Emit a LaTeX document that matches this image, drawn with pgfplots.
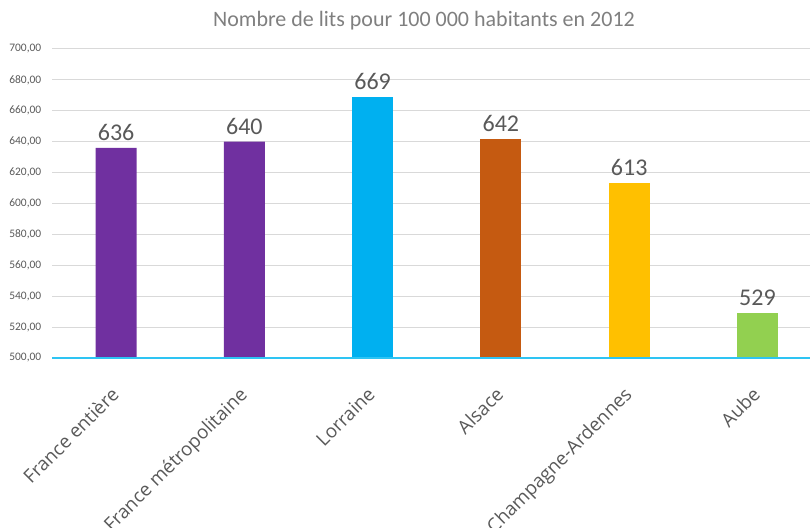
\documentclass[border=0pt]{standalone}
\usepackage{pgfplots}
\pgfplotsset{compat=1.18}
\usepackage{fontspec}
\setmainfont{Carlito}
\newfontfamily\catfont{Open Sans}
\definecolor{txt}{HTML}{595959}
\definecolor{ttl}{HTML}{7F7F7F}
\definecolor{gridc}{HTML}{D9D9D9}
\definecolor{baseblue}{HTML}{2EC4F3}
\definecolor{cpurple}{HTML}{7030A0}
\definecolor{ccyan}{HTML}{00B0F0}
\definecolor{corange}{HTML}{C55A11}
\definecolor{cgold}{HTML}{FFC000}
\definecolor{cgreen}{HTML}{92D050}
\begin{document}
\begin{tikzpicture}
\path[use as bounding box] (0pt,0pt) rectangle (607.5pt,396pt);
\node[text=ttl,font=\fontsize{16.5}{18}\selectfont] at (318pt,380.5pt) {Nombre de lits pour 100 000 habitants en 2012};
\begin{axis}[
  at={(39pt,127.5pt)}, anchor=south west,
  scale only axis, width=568.5pt, height=231.75pt,
  xmin=-0.5, xmax=5.41, ymin=500, ymax=700,
  ytick={500,520,...,700},
  xtick={0,...,5},
  xticklabels={France entière,France métropolitaine,Lorraine,Alsace,Champagne-Ardennes,Aube},
  x tick label style={rotate=45, anchor=north east, font=\catfont\fontsize{14.1}{16}\selectfont, text=txt, xshift=-14.6pt, yshift=-7.9pt},
  y tick label style={font=\fontsize{8.6}{10}\selectfont, text=txt, xshift=-4.5pt},
  yticklabel style={/pgf/number format/fixed, /pgf/number format/fixed zerofill, /pgf/number format/precision=2, /pgf/number format/use comma, /pgf/number format/1000 sep={}, /pgf/number format/assume math mode=true},
  ymajorgrids, grid style={gridc, line width=0.75pt},
  major tick length=0pt,
  axis line style={draw=none},
  ybar, bar width=30.75pt,
  clip=false,
  nodes near coords,
  nodes near coords style={font=\fontsize{18}{20}\selectfont, text=txt, /pgf/number format/fixed, /pgf/number format/precision=0, /pgf/number format/assume math mode=true, yshift=2pt},
]
\addplot[fill=cpurple, draw=none, bar shift=0pt] coordinates {(0,636) (1,640)};
\addplot[fill=ccyan, draw=none, bar shift=0pt] coordinates {(2,669)};
\addplot[fill=corange, draw=none, bar shift=0pt] coordinates {(3,642)};
\addplot[fill=cgold, draw=none, bar shift=0pt] coordinates {(4,613)};
\addplot[fill=cgreen, draw=none, bar shift=0pt] coordinates {(5,529)};
\draw[draw=baseblue, line width=1pt] (axis cs:-0.5,500) -- (axis cs:5.41,500);
\end{axis}
\end{tikzpicture}
\end{document}
